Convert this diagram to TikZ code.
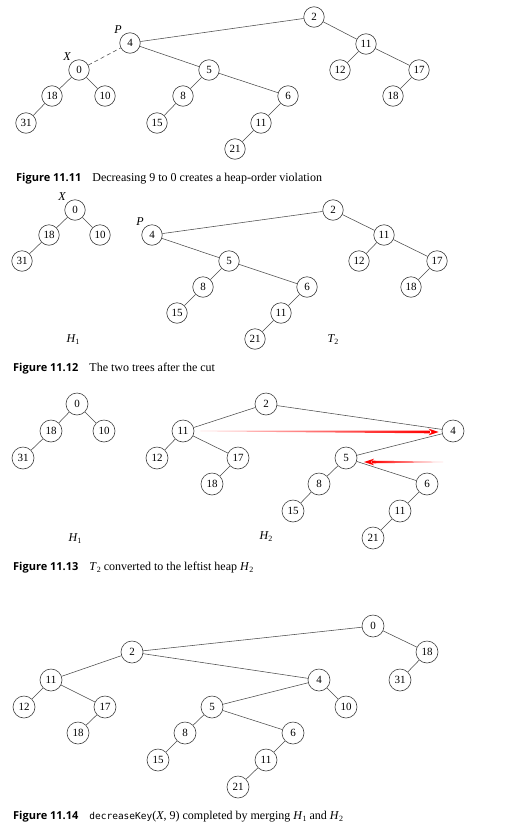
\documentclass[tikz,border=0pt]{standalone}
\usepackage{fontspec}
\setmainfont{Liberation Serif}
\newfontfamily\figfont{Open Sans}
\newfontfamily\codefont{DejaVu Sans Mono}
\usetikzlibrary{calc,arrows.meta}
\newcommand\mysub[1]{\raisebox{-0.35ex}{\fontsize{8}{8}\selectfont #1}}
\newcommand\figlab[1]{{\figfont\bfseries\fontsize{11}{11}\selectfont #1}\hspace{11pt}}
\tikzset{
  hn/.style={circle, draw=black!75, line width=0.6pt, minimum size=20.5pt, inner sep=0pt, font=\fontsize{11}{11}\selectfont},
  hnb/.style={hn, minimum size=22pt},
  edge/.style={draw=black!70, line width=0.55pt},
  lbl/.style={font=\fontsize{12}{12}\selectfont\itshape, inner sep=0pt},
  figcap/.style={anchor=west, font=\fontsize{12}{14}\selectfont, inner sep=0pt},
}
\begin{document}
\begin{tikzpicture}[x=1pt,y=-1pt]
\useasboundingbox (0,0) rectangle (504,830);
\fill[white] (0,0) rectangle (504,830);
% ---------- Figure 11.11 ----------
\begin{scope}[every node/.style={hn}]
\node (a31) at (26,123) {31};
\node (a18) at (52,96) {18};
\node (a0) at (79,70) {0};
\node (a10) at (105,96) {10};
\node (a4) at (130,43) {4};
\node (a15) at (157,123) {15};
\node (a8) at (183,96) {8};
\node (a5) at (209,70) {5};
\node (a21) at (235,149) {21};
\node (a11b) at (261,123) {11};
\node (a6) at (288,96) {6};
\node (a2) at (314,17) {2};
\node (a12) at (340,70) {12};
\node (a11) at (366,44) {11};
\node (a18b) at (393,96) {18};
\node (a17) at (419,70) {17};
\end{scope}
\draw[edge] (a0)--(a18) (a18)--(a31) (a0)--(a10)
  (a4)--(a5) (a4)--(a2) (a5)--(a8) (a8)--(a15) (a5)--(a6) (a6)--(a11b) (a11b)--(a21)
  (a2)--(a11) (a11)--(a12) (a11)--(a17) (a17)--(a18b);
\draw[edge, dash pattern=on 4pt off 3pt] (a0)--(a4);
\node[lbl] (la-x) at (67,57) {X};
\node[lbl] (la-p) at (118,30) {P};
\node[figcap] (cap1) at (16,179) {\figlab{Figure 11.11}Decreasing 9 to 0 creates a heap-order violation};
% ---------- Figure 11.12 ----------
\begin{scope}[every node/.style={hn}]
\node (b0) at (75,210) {0};
\node (b18) at (49,235) {18};
\node (b10) at (100,235) {10};
\node (b31) at (22,261) {31};
\node (b4) at (152,235) {4};
\node (b5) at (229,261) {5};
\node (b8) at (203,287) {8};
\node (b15) at (177,313) {15};
\node (b6) at (307,287) {6};
\node (b11b) at (281,313) {11};
\node (b21) at (255,339) {21};
\node (b2) at (333,210) {2};
\node (b11) at (384,235) {11};
\node (b12) at (359,261) {12};
\node (b17) at (437,261) {17};
\node (b18b) at (411,287) {18};
\end{scope}
\draw[edge] (b0)--(b18) (b18)--(b31) (b0)--(b10)
  (b4)--(b2) (b4)--(b5) (b5)--(b8) (b8)--(b15) (b5)--(b6) (b6)--(b11b) (b11b)--(b21)
  (b2)--(b11) (b11)--(b12) (b11)--(b17) (b17)--(b18b);
\node[lbl] (lb-x) at (62,197) {X};
\node[lbl] (lb-p) at (140,222) {P};
\node[lbl] (lb-h1) at (73,340) {H\mysub{\upshape 1}};
\node[lbl] (lb-t2) at (333,340) {T\mysub{\upshape 2}};
\node[figcap] (cap2) at (13,369) {\figlab{Figure 11.12}The two trees after the cut};
% ---------- Figure 11.13 ----------
\begin{scope}[every node/.style={hnb}]
\node (c0) at (77,404) {0};
\node (c18) at (51,431) {18};
\node (c10) at (104,431) {10};
\node (c31) at (23,458) {31};
\node (c2) at (266,404) {2};
\node (c11) at (183,431) {11};
\node (c12) at (157,458) {12};
\node (c17) at (238,458) {17};
\node (c18b) at (212,484) {18};
\node (c4) at (453,431) {4};
\node (c5) at (346,458) {5};
\node (c8) at (319,484) {8};
\node (c15) at (293,511) {15};
\node (c6) at (427,484) {6};
\node (c11b) at (400,511) {11};
\node (c21) at (373,538) {21};
\end{scope}
\draw[edge] (c0)--(c18) (c18)--(c31) (c0)--(c10)
  (c2)--(c11) (c2)--(c4) (c11)--(c12) (c11)--(c17) (c17)--(c18b)
  (c4)--(c5) (c5)--(c8) (c8)--(c15) (c5)--(c6) (c6)--(c11b) (c11b)--(c21);
% red arrows
\coordinate (r1s) at ($(c11.east)+(6,0)$);
\coordinate (r1e) at ($(c4.west)+(-3,1)$);
\shade[left color=red!10, right color=red] ($(r1s)+(0,-0.35)$) -- ($(r1e)+(-8,-1.3)$) -- ($(r1e)+(-8,1.3)$) -- ($(r1s)+(0,0.35)$) -- cycle;
\fill[red] (r1e) -- +(-10,-3.3) -- +(-7,0) -- +(-10,3.3) -- cycle;
\coordinate (r2s) at ($(c4)+(-10,31)$);
\coordinate (r2e) at ($(c5)+(18,4)$);
\shade[left color=red, right color=red!10] ($(r2s)+(0,-0.35)$) -- ($(r2e)+(8,-1.3)$) -- ($(r2e)+(8,1.3)$) -- ($(r2s)+(0,0.35)$) -- cycle;
\fill[red] (r2e) -- +(10,-3.3) -- +(7,0) -- +(10,3.3) -- cycle;
\node[lbl] (lc-h1) at (75,539) {H\mysub{\upshape 1}};
\node[lbl] (lc-h2) at (266,537) {H\mysub{\upshape 2}};
\node[figcap] (cap3) at (13,568) {\figlab{Figure 11.13}\textit{T}\mysub{2} converted to the leftist heap \textit{H}\mysub{2}};
% ---------- Figure 11.14 ----------
\begin{scope}[every node/.style={hnb}]
\node (d0) at (373,626) {0};
\node (d18) at (427,652) {18};
\node (d31) at (400,680) {31};
\node (d2) at (132,652) {2};
\node (d11) at (51,680) {11};
\node (d12) at (24,707) {12};
\node (d17) at (105,707) {17};
\node (d18b) at (78,733) {18};
\node (d4) at (319,680) {4};
\node (d10) at (346,707) {10};
\node (d5) at (212,707) {5};
\node (d8) at (185,733) {8};
\node (d15) at (158,760) {15};
\node (d6) at (293,733) {6};
\node (d11b) at (266,760) {11};
\node (d21) at (238,787) {21};
\end{scope}
\draw[edge] (d0)--(d2) (d0)--(d18) (d18)--(d31)
  (d2)--(d11) (d2)--(d4) (d11)--(d12) (d11)--(d17) (d17)--(d18b)
  (d4)--(d5) (d4)--(d10) (d5)--(d8) (d8)--(d15) (d5)--(d6) (d6)--(d11b) (d11b)--(d21);
\node[figcap] (cap4) at (13,817) {\figlab{Figure 11.14}{\codefont\fontsize{9.5}{10}\selectfont decreaseKey}(\textit{X}, 9) completed by merging \textit{H}\mysub{1} and \textit{H}\mysub{2}};
\end{tikzpicture}
\end{document}
